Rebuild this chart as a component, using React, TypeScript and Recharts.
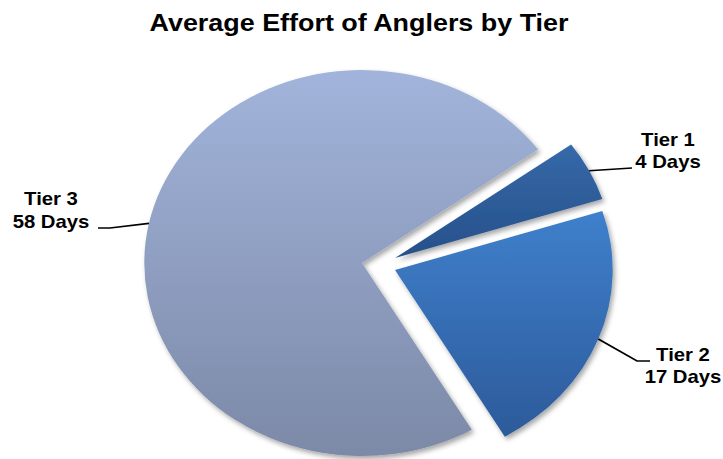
import React from 'react';
import { PieChart, Pie, Cell } from 'recharts';

// ---- data ----
const tiers = ['Tier 1', 'Tier 2', 'Tier 3'];
const days = [4, 17, 58];
const unitLabel = 'Days';
const chartTitle = 'Average Effort of Anglers by Tier';

const data = tiers.map((name, i) => ({ name, value: days[i] }));

// ---- layout / style ----
const W = 723;
const H = 459;
const STRETCH = 1.128; // reference pie is drawn as a horizontally stretched ellipse
const ORIGIN_X = 362;
const ux = (x: number) => ORIGIN_X + (x - ORIGIN_X) / STRETCH;

const R = 193;
const START = 36;
const FONT = '"Liberation Sans", Arial, Helvetica, sans-serif';

// apex position of each exploded slice (page coordinates)
const apex = [
  { x: 395, y: 258 },
  { x: 395, y: 270 },
  { x: 362, y: 263 },
];
const gradients = [
  ['#3569A8', '#26508A'],
  ['#3F80CC', '#2C5A9A'],
  ['#A2B4DB', '#7C89A7'],
];
const labelLayout = [
  { path: [[632, 168]], tx: 668, ty: [146.5, 168] },
  { path: [[637, 361], [650, 361]], tx: 683, ty: [361.5, 383] },
  { path: [[110, 228], [98, 228]], tx: 51, ty: [205.5, 228] },
];

const makeLabel = (idx: number) => (props: any) => {
  if (props.index !== idx) return null;
  const { cx, cy, midAngle, outerRadius } = props;
  const rad = Math.PI / 180;
  const sx = cx + outerRadius * Math.cos(-midAngle * rad);
  const sy = cy + outerRadius * Math.sin(-midAngle * rad);
  const L = labelLayout[idx];
  const pts = [[sx, sy], ...L.path.map(([x, y]) => [ux(x), y])];
  const tx = ux(L.tx);
  return (
    <g key={`lbl-${idx}`} className="stretch-label">
      <polyline
        points={pts.map((p) => p.join(',')).join(' ')}
        fill="none"
        stroke="#000"
        strokeWidth={1.6}
      />
      <text textAnchor="middle" fontFamily={FONT} fontWeight="bold" fontSize={18} fill="#000">
        <tspan x={tx} y={L.ty[0]}>{data[idx].name}</tspan>
        <tspan x={tx} y={L.ty[1]}>{`${data[idx].value} ${unitLabel}`}</tspan>
      </text>
    </g>
  );
};

export default function App() {
  return (
    <div style={{ position: 'absolute', left: 0, top: 0, width: W, height: H, background: '#fff' }}>
      <style>{`.recharts-pie, .stretch-label { transform: scaleX(${STRETCH}); transform-origin: ${ORIGIN_X}px 0px; }`}</style>
      <PieChart width={W} height={H} margin={{ top: 0, right: 0, bottom: 0, left: 0 }}>
        <defs>
          {gradients.map((g, i) => (
            <linearGradient key={i} id={`grad${i}`} x1="0" y1="0" x2="0" y2="1">
              <stop offset="0%" stopColor={g[0]} />
              <stop offset="100%" stopColor={g[1]} />
            </linearGradient>
          ))}
          <filter id="shadow" x="-20%" y="-20%" width="140%" height="140%">
            <feDropShadow dx="2" dy="3" stdDeviation="2.5" floodColor="#000" floodOpacity="0.35" />
          </filter>
        </defs>
        <g transform="translate(359,31) scale(1.145,1)">
          <text
            x={0}
            y={0}
            textAnchor="middle"
            fontFamily={FONT}
            fontWeight="bold"
            fontSize={23.5}
            fill="#000"
          >
            {chartTitle}
          </text>
        </g>
        {[2, 0, 1].map((idx) => (
          <Pie
            key={idx}
            data={data}
            dataKey="value"
            nameKey="name"
            cx={ux(apex[idx].x)}
            cy={apex[idx].y}
            outerRadius={R}
            innerRadius={0}
            startAngle={START}
            endAngle={START - 360}
            stroke="none"
            isAnimationActive={false}
            labelLine={false}
            label={makeLabel(idx)}
          >
            {data.map((d, i) => (
              <Cell
                key={d.name}
                fill={i === idx ? `url(#grad${i})` : 'none'}
                stroke="none"
                filter={i === idx ? 'url(#shadow)' : undefined}
              />
            ))}
          </Pie>
        ))}
      </PieChart>
    </div>
  );
}
